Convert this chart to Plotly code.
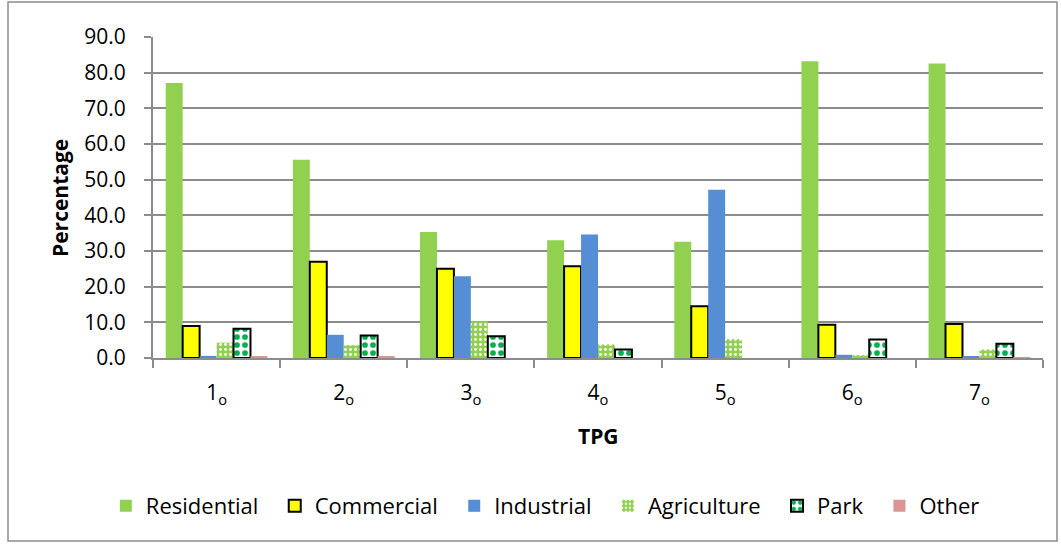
import plotly.graph_objects as go

# Land-use share (%) per TPG class
tpg_labels = ["1<sub>o</sub>", "2<sub>o</sub>", "3<sub>o</sub>", "4<sub>o</sub>",
              "5<sub>o</sub>", "6<sub>o</sub>", "7<sub>o</sub>"]
residential = [77.1, 55.6, 35.3, 33.0, 32.6, 83.2, 82.6]
commercial = [9.0, 27.0, 25.0, 25.7, 14.5, 9.3, 9.5]
industrial = [0.6, 6.5, 22.9, 34.6, 47.2, 0.9, 0.5]
agriculture = [4.3, 3.6, 10.3, 3.8, 5.3, 0.8, 2.4]
park = [8.2, 6.3, 6.1, 2.4, None, 5.2, 4.0]
other = [0.3, 0.3, 0.0, 0.0, 0.0, 0.0, 0.2]
y_ticks = [0, 10, 20, 30, 40, 50, 60, 70, 80, 90]

W, H = 1061, 544
L, R, T, B = 153, 18, 37, 186
FONT = "'Open Sans', 'Noto Sans', sans-serif"
GRID = "#8c8c8c"
PAD = "\u00a0\u00a0"  # extra room after each legend entry

fig = go.Figure()
fig.add_bar(name="Residential" + PAD, x=tpg_labels, y=residential,
            marker=dict(color="#92d050", line=dict(width=0)))
fig.add_bar(name="Commercial" + PAD, x=tpg_labels, y=commercial,
            marker=dict(color="#ffff00", line=dict(color="black", width=2)))
fig.add_bar(name="Industrial" + PAD, x=tpg_labels, y=industrial,
            marker=dict(color="#558ed5", line=dict(width=0)))
fig.add_bar(name="Agriculture" + PAD, x=tpg_labels, y=agriculture,
            marker=dict(color="#92d050", line=dict(width=0),
                        pattern=dict(shape=".", bgcolor="#92d050", fgcolor="white",
                                     size=5, solidity=0.25, fillmode="replace")))
fig.add_bar(name="Park" + PAD, x=tpg_labels, y=park,
            marker=dict(color="white", line=dict(color="black", width=2),
                        pattern=dict(shape=".", bgcolor="white", fgcolor="#00b050",
                                     size=8, solidity=0.4, fillmode="replace")))
fig.add_bar(name="Other", x=tpg_labels, y=other,
            marker=dict(color="#d99694", line=dict(width=0)))

# pixel -> paper helpers for the frame and axis titles
pw, ph = W - L - R, H - T - B
def px_x(v):
    return (v - L) / pw
def px_y(v):
    return (H - B - v) / ph

fig.update_layout(
    width=W, height=H,
    margin=dict(l=L, r=R, t=T, b=B),
    paper_bgcolor="white", plot_bgcolor="white",
    barmode="group", bargap=0.2, bargroupgap=0,
    font=dict(family=FONT, size=21, color="black"),
    showlegend=True,
    legend=dict(orientation="h", xref="container", yref="container",
                x=0.514, xanchor="center", y=(H - 506) / H, yanchor="middle",
                font=dict(size=22), itemwidth=30, traceorder="normal",
                bgcolor="rgba(0,0,0,0)"),
    xaxis=dict(type="category", showline=True, linecolor=GRID, linewidth=2,
               ticks="outside", tickson="boundaries", ticklen=8, tickcolor=GRID,
               tickwidth=2, showgrid=False, ticklabelstandoff=15,
               tickfont=dict(size=21)),
    yaxis=dict(range=[0, 90], tickvals=y_ticks, tickformat=".1f",
               showline=True, linecolor=GRID, linewidth=2,
               ticks="outside", ticklen=7, tickcolor=GRID, tickwidth=2,
               showgrid=True, gridcolor=GRID, gridwidth=1.5, zeroline=False,
               ticklabelstandoff=14, tickfont=dict(size=21)),
    shapes=[dict(type="rect", xref="paper", yref="paper",
                 x0=px_x(8), x1=px_x(1057), y0=px_y(541), y1=px_y(2),
                 line=dict(color="#8c8c8c", width=1.5), fillcolor="rgba(0,0,0,0)",
                 layer="below")],
    annotations=[
        dict(text="<b>Percentage</b>", xref="paper", yref="paper",
             x=px_x(60), y=px_y(198), textangle=-90, showarrow=False,
             xanchor="center", yanchor="middle", font=dict(size=21)),
        dict(text="<b>TPG</b>", xref="paper", yref="paper",
             x=px_x(598), y=px_y(436), showarrow=False,
             xanchor="center", yanchor="middle", font=dict(size=21)),
    ],
)

fig.write_html("out.html")
